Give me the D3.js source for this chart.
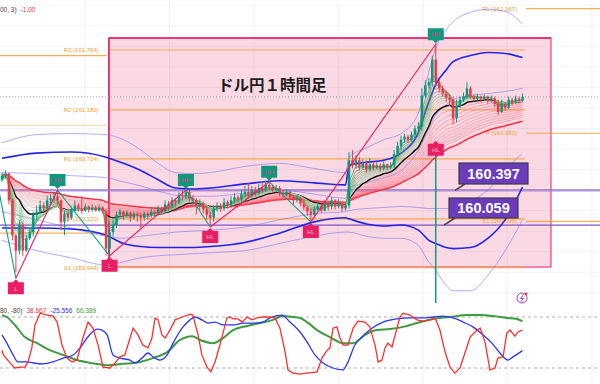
<!DOCTYPE html>
<html><head><meta charset="utf-8">
<script src="https://cdn.jsdelivr.net/npm/d3@7/dist/d3.min.js"></script>
<style>html,body{margin:0;padding:0;background:#fff;}svg{display:block;}</style>
</head><body>
<svg id="c" width="600" height="384"></svg>
<script>
// ---------- DATA ----------
const firstOpen = 160.50;
const closes = [
160.54,160.56,160.30,159.96,159.81,160.06,159.81,159.93,159.99,160.16,
160.19,160.25,160.22,160.30,160.32,160.34,160.30,160.09,160.17,160.13,
160.20,160.25,160.22,160.20,160.24,160.21,160.23,160.20,160.23,160.19,
159.83,159.99,160.06,160.16,160.19,160.15,160.18,160.13,160.17,160.15,
160.13,160.17,160.15,160.19,160.17,160.22,160.19,160.26,160.24,160.30,
160.28,160.35,160.34,160.38,160.32,160.30,160.25,160.27,160.21,160.16,
160.13,160.22,160.25,160.22,160.28,160.25,160.30,160.33,160.31,160.36,
160.38,160.35,160.40,160.37,160.42,160.40,160.45,160.43,160.40,160.42,
160.37,160.35,160.38,160.33,160.30,160.32,160.27,160.23,160.19,160.16,
160.21,160.24,160.20,160.27,160.24,160.30,160.24,160.27,160.22,160.25,
160.69,160.64,160.69,160.62,160.66,160.60,160.65,160.62,160.64,160.61,
160.65,160.62,160.64,160.75,160.83,160.89,160.92,160.89,160.94,161.00,
161.02,161.32,161.42,161.45,161.67,161.45,161.39,161.34,161.30,161.28,
161.10,161.22,161.28,161.31,161.39,161.31,161.29,161.31,161.29,161.31,
161.28,161.29,161.24,161.16,161.24,161.20,161.28,161.25,161.29,161.27,
161.31];
const highs = [
160.57,160.59,160.57,160.32,159.97,160.11,160.09,159.97,160.03,160.19,
160.25,160.30,160.28,160.34,160.36,160.38,160.40,160.31,160.20,160.19,
160.24,160.30,160.27,160.34,160.27,160.25,160.26,160.25,160.26,160.24,
160.22,160.03,160.11,160.19,160.22,160.20,160.20,160.19,160.19,160.19,
160.18,160.19,160.19,160.22,160.20,160.25,160.24,160.30,160.29,160.33,
160.32,160.38,160.39,160.41,160.40,160.35,160.32,160.31,160.29,160.24,
160.19,160.25,160.28,160.27,160.32,160.30,160.34,160.37,160.35,160.40,
160.44,160.47,160.44,160.43,160.46,160.47,160.49,160.48,160.45,160.45,
160.44,160.40,160.41,160.39,160.35,160.35,160.33,160.30,160.25,160.22,
160.24,160.28,160.26,160.30,160.29,160.33,160.31,160.31,160.29,160.28,
160.77,160.79,160.74,160.72,160.70,160.69,160.71,160.68,160.67,160.66,
160.68,160.66,160.67,160.79,160.87,160.93,160.95,160.94,160.97,161.03,
161.06,161.39,161.47,161.49,161.71,161.83,161.47,161.42,161.37,161.33,
161.31,161.28,161.31,161.35,161.45,161.41,161.33,161.34,161.32,161.33,
161.32,161.32,161.31,161.28,161.28,161.26,161.31,161.30,161.32,161.31,
161.34];
const lows = [
160.48,160.52,160.26,159.91,159.60,159.77,159.76,159.80,159.91,159.95,
160.11,160.17,160.19,160.20,160.27,160.28,160.26,160.01,159.96,160.09,
160.11,160.19,160.19,160.17,160.19,160.18,160.19,160.19,160.19,160.17,
159.76,159.78,159.95,160.03,160.13,160.11,160.13,160.09,160.11,160.09,
160.03,160.10,160.11,160.13,160.14,160.15,160.17,160.19,160.20,160.22,
160.24,160.26,160.30,160.31,160.29,160.26,160.16,160.20,160.17,160.11,
160.06,160.09,160.19,160.19,160.20,160.22,160.23,160.27,160.28,160.29,
160.33,160.32,160.33,160.34,160.35,160.37,160.38,160.40,160.37,160.38,
160.34,160.32,160.34,160.30,160.26,160.28,160.24,160.20,160.15,160.10,
160.13,160.19,160.18,160.19,160.20,160.21,160.21,160.22,160.19,160.20,
160.22,160.61,160.61,160.59,160.60,160.57,160.58,160.59,160.60,160.58,
160.59,160.59,160.60,160.61,160.73,160.79,160.86,160.86,160.87,160.91,
160.96,160.98,161.30,161.39,161.41,161.41,161.35,161.31,161.26,161.22,
161.04,161.06,161.20,161.26,161.29,161.29,161.26,161.27,161.26,161.27,
161.24,161.25,161.21,161.13,161.15,161.17,161.19,161.23,161.24,161.25,
161.26];

// Bands at bar indices
const bandIdx  = [0,10,20,30,35,40,45,50,55,60,70,80,90,99,100,105,110,115,120,123,125,128,130,135,140,145,150];
const outerUp  = [160.86,160.94,160.95,160.94,160.89,160.79,160.66,160.57,160.56,160.57,160.63,160.66,160.61,160.57,160.72,160.81,160.89,160.95,161.15,161.55,161.78,161.96,162.04,162.13,162.16,162.14,162.02];
const darkUp   = [160.71,160.76,160.77,160.72,160.66,160.59,160.50,160.42,160.41,160.42,160.46,160.49,160.47,160.45,160.64,160.67,160.69,160.76,160.96,161.26,161.43,161.57,161.65,161.71,161.74,161.73,161.69];
const innerUp  = [160.57,160.56,160.54,160.52,160.48,160.44,160.39,160.35,160.34,160.34,160.37,160.40,160.36,160.32,160.42,160.47,160.52,160.59,160.79,161.00,161.13,161.23,161.28,161.32,161.34,161.36,161.39];
const innerLow = [160.19,160.11,160.03,159.95,159.93,159.95,159.97,159.99,160.00,160.01,160.04,160.11,160.17,160.19,160.20,160.22,160.23,160.24,160.23,160.22,160.22,160.22,160.23,160.29,160.40,160.59,160.76];
const darkLow  = [160.03,160.03,160.02,159.96,159.88,159.85,159.84,159.84,159.84,159.85,159.89,159.98,160.09,160.13,160.12,160.07,160.05,160.06,160.01,159.91,159.88,159.84,159.83,159.84,159.93,160.11,160.43];
const outerLow = [159.91,159.81,159.74,159.67,159.70,159.74,159.76,159.77,159.78,159.79,159.81,159.88,159.95,159.99,159.99,159.95,159.93,159.93,159.86,159.70,159.62,159.47,159.42,159.42,159.57,159.81,160.11];

// EMA ribbon settings
const greenPeriods = [3,4,5,6,7,8,9,10,11,12];
const blackPeriod = 14;
const redPeriods = [17,20,23,26,29,32,35,38,41,44];
const redSeeds = [160.50,160.51,160.51,160.52,160.52,160.53,160.53,160.54,160.54,160.55];
const thickRedPeriod = 50, thickRedSeed = 160.55;

// Pivots (weekly)
const pivot1Vals = [161.71,161.03,159.98];
const pivot2Names = ["R3","R2","R1","P","S1"];
const pivot2Vals = [161.764,161.180,160.704,160.120,159.644];
const pivot3Names = ["R1","P","S1"];
const pivot3Vals = [162.167,160.953,160.095];
const periodStart = [-2, 31.1, 151];
const periodEnd = [30.2, 150.7, 176];

// Zigzag pivots & labels
const zigIdx   = [-1.5,4,16,31,53,60,77,89,125];
const zigPrice = [160.50,159.54,160.40,159.76,160.40,160.04,160.48,160.09,161.82];
const zigLabel = ["","L","LH","L","HH","HL","HH","HL","HH"];
const pendingLow = {i:125, p:160.89, label:"HL"};

const levelLines = [160.397, 160.059];
const lastPrice = 161.307;
const boxTime = [30.8, 158.2], boxPrice = [159.65, 161.88];
const gridTicks = [23.9,48.3,72.6,96.9,121.3,145.6,170];

// Oscillator [bar index, value]
const oscRed = [[0,-24],[0.4,-39],[2.3,-64],[3.7,-80],[5.2,-77],[6.6,-77],[7.5,-61],[8.6,-17],[9.5,55],[11,92],[13,86],[14.7,83],[15.9,64],[17.3,-8],[18.7,-49],[20.2,-61],[21.6,-55],[23.3,14],[24.8,64],[26.2,45],[27.7,-8],[29.1,-77],[31.1,-80],[32.6,-64],[34,-45],[35.4,-39],[36.9,14],[37.8,45],[39.2,24],[40.6,-8],[42.1,-17],[43.2,14],[44.1,77],[45,71],[46.1,24],[47,14],[48.4,39],[49.9,71],[51.9,80],[54.2,89],[55,86],[56.5,24],[57.6,-39],[59.1,-77],[60.2,-92],[61.4,-61],[62.8,-8],[64.8,77],[65.7,80],[66.6,74],[68,74],[69.2,64],[70.6,80],[72,71],[73.5,77],[75.2,80],[77.2,80],[78.7,77],[80.1,45],[81.6,-30],[82.4,-86],[83.9,-96],[85.9,-99],[87.9,-96],[90.8,-92],[92.2,-49],[93.7,-24],[94.5,-17],[95.4,45],[96.5,49],[97.4,14],[98.3,-8],[99.7,-8],[101.2,45],[102.6,67],[104.6,64],[106,49],[107.5,-8],[108.4,-61],[109.5,-55],[110.4,-17],[111.2,-2],[112.4,-14],[113.3,24],[114.7,80],[115.6,92],[117.6,86],[119.6,71],[121.3,67],[123.3,71],[124.8,77],[126.2,39],[127.7,-30],[129.1,-77],[130.5,-96],[132,-80],[133.4,-33],[134.9,17],[136.3,33],[137.8,45],[139.2,2],[140.6,-86],[142.1,-80],[142.9,-49],[144.4,-45],[145.5,30],[146.4,39],[147.8,20],[148.7,33],[150,38.667]];
const oscBlue = [[0,24],[1.4,-2],[3.2,-39],[4.6,-61],[7.2,-61],[8.9,-64],[11.8,-67],[14.7,-61],[17.6,-49],[20.5,-39],[22.5,-17],[24.5,14],[27.4,42],[28.8,39],[30.3,24],[32,-39],[34,-49],[36.9,-55],[38.3,-64],[40.3,-49],[42.1,-33],[43.5,-45],[45.5,-55],[47.6,-39],[49.3,-2],[51.9,45],[54.2,71],[55.6,80],[57.6,71],[59.4,61],[61.4,64],[63.7,55],[66.6,55],[69.5,61],[72.3,61],[75.2,64],[77.2,77],[80.7,86],[83,64],[85.9,33],[87.9,2],[90.2,-39],[92.5,-64],[95.4,-80],[98.3,-86],[99.7,-61],[101.7,-8],[103.7,17],[106.6,45],[109.8,64],[113.8,74],[117.6,77],[121.3,77],[124.2,80],[127.1,83],[130,77],[132.9,64],[135.7,49],[138.6,24],[141.2,-2],[143.5,-33],[145.8,-55],[147.3,-45],[150,-25.556]];
const oscGreen = [[0,86],[1.4,80],[3.7,55],[6.6,17],[10.1,-2],[13.8,-24],[17.6,-39],[21.6,-55],[25.4,-64],[30.3,-71],[34.9,-67],[39.8,-61],[43.5,-49],[47.6,-30],[51.3,8],[54.8,20],[57.1,8],[60.8,-2],[63.7,14],[66.6,39],[70.6,52],[74.4,61],[78.1,71],[81,83],[83.9,80],[85.9,77],[87.9,64],[90.8,39],[94.5,17],[98.3,-2],[101.2,-2],[104.6,24],[108.1,39],[111.8,42],[115.6,49],[119.6,61],[124.2,74],[129.1,80],[134,86],[137.8,86],[141.5,83],[145.5,77],[148.4,74],[150,66.389]];
const oscLevels = [80,-80];
const oscHeader = ["80, -80)","38.667","-25.556","66.389"];

// ---------- DRAW ----------
const svg = d3.select("#c");
const W = 600, H = 384, PH = 303;
const x = d3.scaleLinear().domain([0,150]).range([2,522.5]);
const y = d3.scaleLinear().domain([159.30,162.251]).range([PH,0]);
const yo = d3.scaleLinear().domain([-80,80]).range([368,317]);
const FONT = "'Liberation Sans', Arial, sans-serif";

svg.append("rect").attr("width",W).attr("height",H).attr("fill","#fff");
const defs = svg.append("defs");
defs.append("clipPath").attr("id","cp").append("rect").attr("width",W).attr("height",PH);
defs.append("clipPath").attr("id","co").append("rect").attr("y",PH).attr("width",W).attr("height",H-PH);

// grid
const grid = svg.append("g");
grid.selectAll(".gv").data(gridTicks).join("line")
  .attr("x1",d=>x(d)).attr("x2",d=>x(d)).attr("y1",0).attr("y2",H)
  .attr("stroke","#eef0f4").attr("stroke-width",1);
grid.selectAll(".gh").data(y.ticks(15)).join("line")
  .attr("x1",0).attr("x2",W).attr("y1",d=>y(d)).attr("y2",d=>y(d))
  .attr("stroke","#f3f4f7").attr("stroke-width",1);

const P = svg.append("g").attr("clip-path","url(#cp)");

// pink box
P.append("rect")
  .attr("x",x(boxTime[0])).attr("y",y(boxPrice[1]))
  .attr("width",x(boxTime[1])-x(boxTime[0])).attr("height",y(boxPrice[0])-y(boxPrice[1]))
  .attr("fill","rgba(236,64,122,0.2)").attr("stroke","#f06292").attr("stroke-width",1.5);
P.append("line").attr("x1",x(boxTime[0])).attr("x2",x(boxTime[1]))
  .attr("y1",y(boxPrice[1])).attr("y2",y(boxPrice[1])).attr("stroke","#e91e63").attr("stroke-width",1.5);
P.append("line").attr("x1",x(boxTime[0])).attr("x2",x(boxTime[0]))
  .attr("y1",y(boxPrice[1])).attr("y2",y(boxPrice[0])).attr("stroke","#e91e63").attr("stroke-width",1.5);

// pivots
const pivG = P.append("g");
function pivotLines(vals, k, opac){
  pivG.selectAll(null).data(vals).join("line")
    .attr("x1",x(periodStart[k])).attr("x2",x(periodEnd[k]))
    .attr("y1",d=>y(d)).attr("y2",d=>y(d))
    .attr("stroke","#f7a541").attr("stroke-width",1.2)
    .attr("opacity",(d,j)=>opac?opac[j]:0.9);
}
pivotLines(pivot1Vals,0,[0.9,0.35,0.8]);
pivotLines(pivot2Vals,1);
pivotLines(pivot3Vals,2);
function pivotLabels(names, vals, k){
  pivG.selectAll(null).data(vals).join("text")
    .attr("x",x(periodEnd[k-1])-8).attr("y",d=>y(d)+2)
    .attr("text-anchor","end").attr("font-family",FONT).attr("font-size",6)
    .attr("fill","#f5a030")
    .text((d,j)=>names[j]+" ("+d3.format(".3f")(d)+")");
}

// level lines
P.append("line").attr("x1",0).attr("x2",W).attr("y1",y(levelLines[0])).attr("y2",y(levelLines[0]))
  .attr("stroke","rgba(149,117,205,0.75)").attr("stroke-width",2.5);
P.append("line").attr("x1",0).attr("x2",W).attr("y1",y(levelLines[1])).attr("y2",y(levelLines[1]))
  .attr("stroke","#7e57c2").attr("stroke-width",1.3);
// last price dotted
P.append("line").attr("x1",0).attr("x2",W).attr("y1",y(lastPrice)).attr("y2",y(lastPrice))
  .attr("stroke","#7fae9e").attr("stroke-width",1).attr("stroke-dasharray","1,2");

// bands
const bandLine = d3.line().x(d=>x(d[0])).y(d=>y(d[1])).curve(d3.curveMonotoneX);
function band(vals, color, w){
  P.append("path").attr("d",bandLine(bandIdx.map((b,k)=>[b,vals[k]])))
    .attr("fill","none").attr("stroke",color).attr("stroke-width",w);
}
band(outerUp,"rgba(110,110,240,0.55)",1);
band(innerUp,"rgba(110,110,240,0.55)",1);
band(innerLow,"rgba(110,110,240,0.55)",1);
band(outerLow,"rgba(110,110,240,0.55)",1);
band(darkUp,"#2323e6",1.6);
band(darkLow,"#2323e6",1.6);

// EMA ribbon
function ema(period, seed){ const a = 2/(period+1); let e = seed; return closes.map(c => (e = e + a*(c-e))); }
const emaLine = d3.line().x((d,i)=>x(i)).y(d=>y(d)).curve(d3.curveMonotoneX);
P.append("path").attr("d",emaLine(ema(thickRedPeriod,thickRedSeed))).attr("fill","none")
  .attr("stroke","#f23645").attr("stroke-width",1.6);
redPeriods.forEach((p,k)=>{
  P.append("path").attr("d",emaLine(ema(p,redSeeds[k]))).attr("fill","none")
   .attr("stroke","#ff4d5e").attr("stroke-opacity",0.45).attr("stroke-width",0.9);
});
P.append("path").attr("d",emaLine(ema(blackPeriod,160.51))).attr("fill","none")
  .attr("stroke","#111").attr("stroke-width",1.5);
const gcol = d3.interpolateRgb("#2e8b3e","#b9d3b0");
greenPeriods.forEach((p,k)=>{
  P.append("path").attr("d",emaLine(ema(p,firstOpen))).attr("fill","none")
   .attr("stroke",gcol(k/(greenPeriods.length-1))).attr("stroke-opacity",0.8).attr("stroke-width",0.8);
});

// candles
const candles = closes.map((c,i)=>({i, o: i ? closes[i-1] : firstOpen, c, h: highs[i], l: lows[i]}));
const cg = P.append("g");
cg.selectAll("line").data(candles).join("line")
  .attr("x1",d=>x(d.i)).attr("x2",d=>x(d.i))
  .attr("y1",d=>y(Math.max(d.h,d.o,d.c))).attr("y2",d=>y(Math.min(d.l,d.o,d.c)))
  .attr("stroke",d=>d.c>=d.o?"#089981":"#f23645").attr("stroke-width",1);
cg.selectAll("rect").data(candles).join("rect")
  .attr("x",d=>x(d.i)-1.25).attr("width",2.5)
  .attr("y",d=>y(Math.max(d.o,d.c)))
  .attr("height",d=>Math.max(1,Math.abs(y(d.o)-y(d.c))))
  .attr("fill",d=>d.c>=d.o?"#089981":"#f23645");

// zigzag
for(let k=0;k<zigIdx.length-1;k++){
  const up = zigPrice[k+1] > zigPrice[k];
  P.append("line").attr("x1",x(zigIdx[k])).attr("y1",y(zigPrice[k]))
    .attr("x2",x(zigIdx[k+1])).attr("y2",y(zigPrice[k+1]))
    .attr("stroke",up?"#e91e63":"#11a08a").attr("stroke-width",1.1);
}
// teal vertical
P.append("line").attr("x1",x(pendingLow.i)).attr("x2",x(pendingLow.i))
  .attr("y1",y(pendingLow.p)+14).attr("y2",PH).attr("stroke","#0f9d84").attr("stroke-width",1.5);

// markers
function marker(i,p,label,high){
  const cx = x(i), cy = y(p), w = 16, h = 12, t = 3;
  let d, ty;
  if(high){
    const b = cy-1, top = b-t-h;
    d = `M${cx-w/2},${top}H${cx+w/2}V${top+h}H${cx+3}L${cx},${b}L${cx-3},${top+h}H${cx-w/2}Z`;
    ty = top+h/2+2.2;
  } else {
    const tp = cy+1, top = tp+t;
    d = `M${cx},${tp}L${cx+3},${top}H${cx+w/2}V${top+h}H${cx-w/2}V${top}H${cx-3}Z`;
    ty = top+h/2+2.2;
  }
  P.append("path").attr("d",d).attr("fill",high?"#12977f":"#e91e63");
  P.append("text").attr("x",cx).attr("y",ty).attr("text-anchor","middle")
    .attr("font-family",FONT).attr("font-size",6)
    .attr("fill",high?"#d8436e":"#f7b9cc").text(label);
}
for(let k=1;k<zigIdx.length;k++){
  marker(zigIdx[k],zigPrice[k],zigLabel[k],zigPrice[k]>zigPrice[k-1]);
}
marker(pendingLow.i,pendingLow.p,pendingLow.label,false);

pivotLabels(pivot2Names,pivot2Vals,1);
pivotLabels(pivot3Names,pivot3Vals,2);

// callouts
function callout(val, bx, by, bw, bh, tx, ty){
  P.append("line").attr("x1",bx+6).attr("y1",by+bh).attr("x2",tx).attr("y2",ty)
    .attr("stroke","#444").attr("stroke-width",1.5);
  P.append("rect").attr("x",bx).attr("y",by).attr("width",bw).attr("height",bh)
    .attr("fill","#6a3cbc").attr("stroke","#3b3b4a").attr("stroke-width",1.2);
  P.append("text").attr("x",bx+bw/2).attr("y",by+bh/2+5.2).attr("text-anchor","middle")
    .attr("font-family",FONT).attr("font-weight","bold").attr("font-size",14.5)
    .attr("fill","#fff").text(d3.format(".3f")(val));
}
callout(levelLines[0],459,163,69,21,455,y(levelLines[0]));
callout(levelLines[1],449,198,69,20,444,y(levelLines[1]));

// title
svg.append("text").attr("x",218).attr("y",91)
  .attr("font-family","'Noto Sans CJK JP', sans-serif").attr("font-weight","bold")
  .attr("font-size",15.5).attr("fill","#1c1c1c").text("ドル円１時間足");

// top-left header
const hd = svg.append("text").attr("x",0).attr("y",12).attr("font-family",FONT).attr("font-size",6.5);
hd.append("tspan").attr("fill","#444").text("00, 3)");
hd.append("tspan").attr("dx",4).attr("fill","#f23645").text("-1.00");

// icon
svg.append("circle").attr("cx",522).attr("cy",298).attr("r",5).attr("fill","#fff")
  .attr("stroke","#a347ba").attr("stroke-width",1);
svg.append("path").attr("d","M523.5,294.5 L520.5,298.5 L523.5,298.5 L520.8,302").attr("fill","none")
  .attr("stroke","#a347ba").attr("stroke-width",1);
svg.append("circle").attr("cx",526).attr("cy",294).attr("r",1.4).attr("fill","#f23645");

// oscillator
const O = svg.append("g").attr("clip-path","url(#co)");
O.selectAll(".lv").data(oscLevels).join("line")
  .attr("x1",0).attr("x2",W).attr("y1",d=>yo(d)).attr("y2",d=>yo(d))
  .attr("stroke","#b0b0b0").attr("stroke-width",1).attr("stroke-dasharray","3,3");
O.append("path").attr("d",d3.line().x(d=>x(d[0])).y(d=>yo(d[1])).curve(d3.curveMonotoneX)(oscGreen)).attr("fill","none")
  .attr("stroke","#3f9a41").attr("stroke-width",2);
O.append("path").attr("d",d3.line().x(d=>x(d[0])).y(d=>yo(d[1])).curve(d3.curveMonotoneX)(oscBlue)).attr("fill","none")
  .attr("stroke","#2b35f5").attr("stroke-width",1.3);
O.append("path").attr("d",d3.line().x(d=>x(d[0])).y(d=>yo(d[1])).curve(d3.curveLinear)(oscRed)).attr("fill","none")
  .attr("stroke","#ff2e2e").attr("stroke-width",1.3);
const oh = svg.append("text").attr("x",0).attr("y",313).attr("font-family",FONT).attr("font-size",6.5);
const ohCols = ["#444","#f23645","#2b35f5","#3f9a41"];
oscHeader.forEach((t,k)=>oh.append("tspan").attr("dx",k?4:0).attr("fill",ohCols[k]).text(t));
</script>
</body></html>
